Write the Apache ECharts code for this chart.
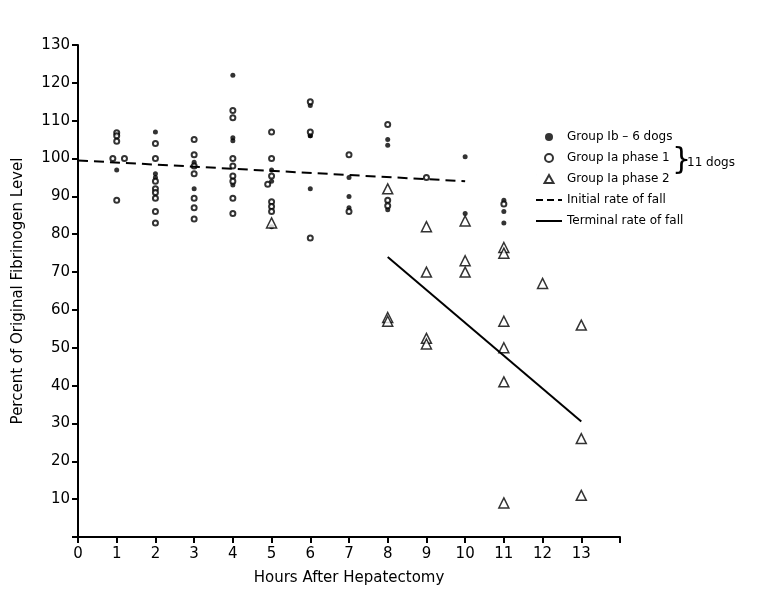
<!DOCTYPE html>
<html>
<head>
<meta charset="utf-8">
<script src="https://cdn.jsdelivr.net/npm/echarts@6/dist/echarts.min.js"></script>
<style>html,body{margin:0;background:#fff}#c{width:773px;height:595px}</style>
</head>
<body>
<div id="c"></div>
<script>
// Group Ib - 6 dogs (filled circles)
var groupIb = [
  [1,97],[2,107],[2,96],[2,95],[3,99],[3,92],[4,122],[4,105.5],[4,104.7],[4,93],
  [5,97],[5,94],[5,82],[6,114],[6,106],[6,106],[6,92],[7,95],[7,90],[7,87],
  [8,105],[8,103.5],[8,86.5],[10,100.5],[10,85.5],[11,89],[11,86],[11,83]
];
// Group Ia phase 1 (open circles)
var groupIa1 = [
  [0.9,100],[1,106.8],[1,106],[1,104.6],[1.2,100],[1,89],
  [2,104],[2,100],[2,94],[2,92],[2,91],[2,89.5],[2,86],[2,83],
  [3,105],[3,101],[3,98],[3,96],[3,89.5],[3,87],[3,84],
  [4,112.7],[4,110.8],[4,100],[4,98],[4,95.4],[4,94],[4,89.5],[4,85.5],
  [5,107],[5,100],[5,95.4],[4.9,93.2],[5,88.6],[5,87.3],[5,86],
  [6,115],[6,107],[6,79],[7,101],[7,86],
  [8,109],[8,89],[8,87.5],[9,95],[11,88]
];
// Group Ia phase 2 (triangles)
var groupIa2 = [
  [5,83],[8,92],[8,58],[8,57],[9,82],[9,70],[9,52.5],[9,51],
  [10,83.5],[10,73],[10,70],[11,76.5],[11,75],[11,57],[11,50],[11,41],[11,9],
  [12,67],[13,56],[13,26],[13,11]
];
var initialFall = [[0,99.5],[10,94]];
var terminalFall = [[8,74],[13,30.5]];
var xTicks = [0,1,2,3,4,5,6,7,8,9,10,11,12,13];

var font = 'DejaVu Sans';
var chart = echarts.init(document.getElementById('c'));
chart.setOption({
  animation: false,
  grid: {left: 78, right: 773 - 620, top: 45, bottom: 58},
  legend: {
    orient: 'vertical', left: 530, top: 126, itemGap: 9, itemWidth: 26, itemHeight: 8,
    textStyle: {fontFamily: font, fontSize: 12, color: '#000'},
    data: [
      {name: 'Group Ib – 6 dogs', icon: 'circle'},
      {name: 'Group Ia phase 1', icon: 'emptyCircle'},
      {name: 'Group Ia phase 2', icon: 'path://M0,0L0.01,0M26,8L25.99,8M13,0L17.5,8L8.5,8Z'},
      {name: 'Initial rate of fall', itemStyle: {opacity: 0}, lineStyle: {type: [7, 4], width: 2, color: '#000'}},
      {name: 'Terminal rate of fall', itemStyle: {opacity: 0}, lineStyle: {width: 2, color: '#000'}}
    ]
  },
  graphic: [
    {type: 'text', left: 672, top: 146, style: {text: '}', font: '30px ' + font, fill: '#000'}},
    {type: 'text', left: 687, top: 157, style: {text: '11 dogs', font: '12px ' + font, fill: '#000'}}
  ],
  xAxis: {
    type: 'value', min: 0, max: 14, interval: 1,
    name: 'Hours After Hepatectomy', nameLocation: 'middle', nameGap: 34,
    nameTextStyle: {fontFamily: font, fontSize: 15, color: '#000'},
    axisLine: {lineStyle: {color: '#000', width: 2}},
    axisTick: {inside: false, length: 6, lineStyle: {color: '#000', width: 2}},
    axisLabel: {fontFamily: font, fontSize: 15, color: '#000', margin: 10,
      formatter: function (v) { return xTicks.indexOf(v) >= 0 ? v : ''; }},
    splitLine: {show: false}
  },
  yAxis: {
    type: 'value', min: 0, max: 130, interval: 10,
    name: 'Percent of Original Fibrinogen Level', nameLocation: 'middle', nameGap: 52,
    nameTextStyle: {fontFamily: font, fontSize: 15, color: '#000'},
    axisLine: {show: true, lineStyle: {color: '#000', width: 2}},
    axisTick: {show: true, length: 6, lineStyle: {color: '#000', width: 2}},
    axisLabel: {fontFamily: font, fontSize: 15, color: '#000',
      formatter: function (v) { return v === 0 ? '' : v; }},
    splitLine: {show: false}
  },
  series: [
    {name: 'Group Ib – 6 dogs', type: 'scatter', data: groupIb, symbol: 'circle', symbolSize: 5,
      itemStyle: {color: '#000'}},
    {name: 'Group Ia phase 1', type: 'scatter', data: groupIa1, symbol: 'emptyCircle', symbolSize: 5,
      itemStyle: {color: '#000', borderColor: '#000', borderWidth: 1.3}},
    {name: 'Group Ia phase 2', type: 'scatter', data: groupIa2, symbol: 'triangle', symbolSize: 10,
      itemStyle: {color: '#fff', borderColor: '#000', borderWidth: 1.5}},
    {name: 'Initial rate of fall', type: 'line', data: initialFall, symbol: 'none',
      lineStyle: {color: '#000', width: 2, type: [10, 6]}, itemStyle: {color: '#000'}},
    {name: 'Terminal rate of fall', type: 'line', data: terminalFall, symbol: 'none',
      lineStyle: {color: '#000', width: 2}, itemStyle: {color: '#000'}}
  ]
});
</script>
</body>
</html>
